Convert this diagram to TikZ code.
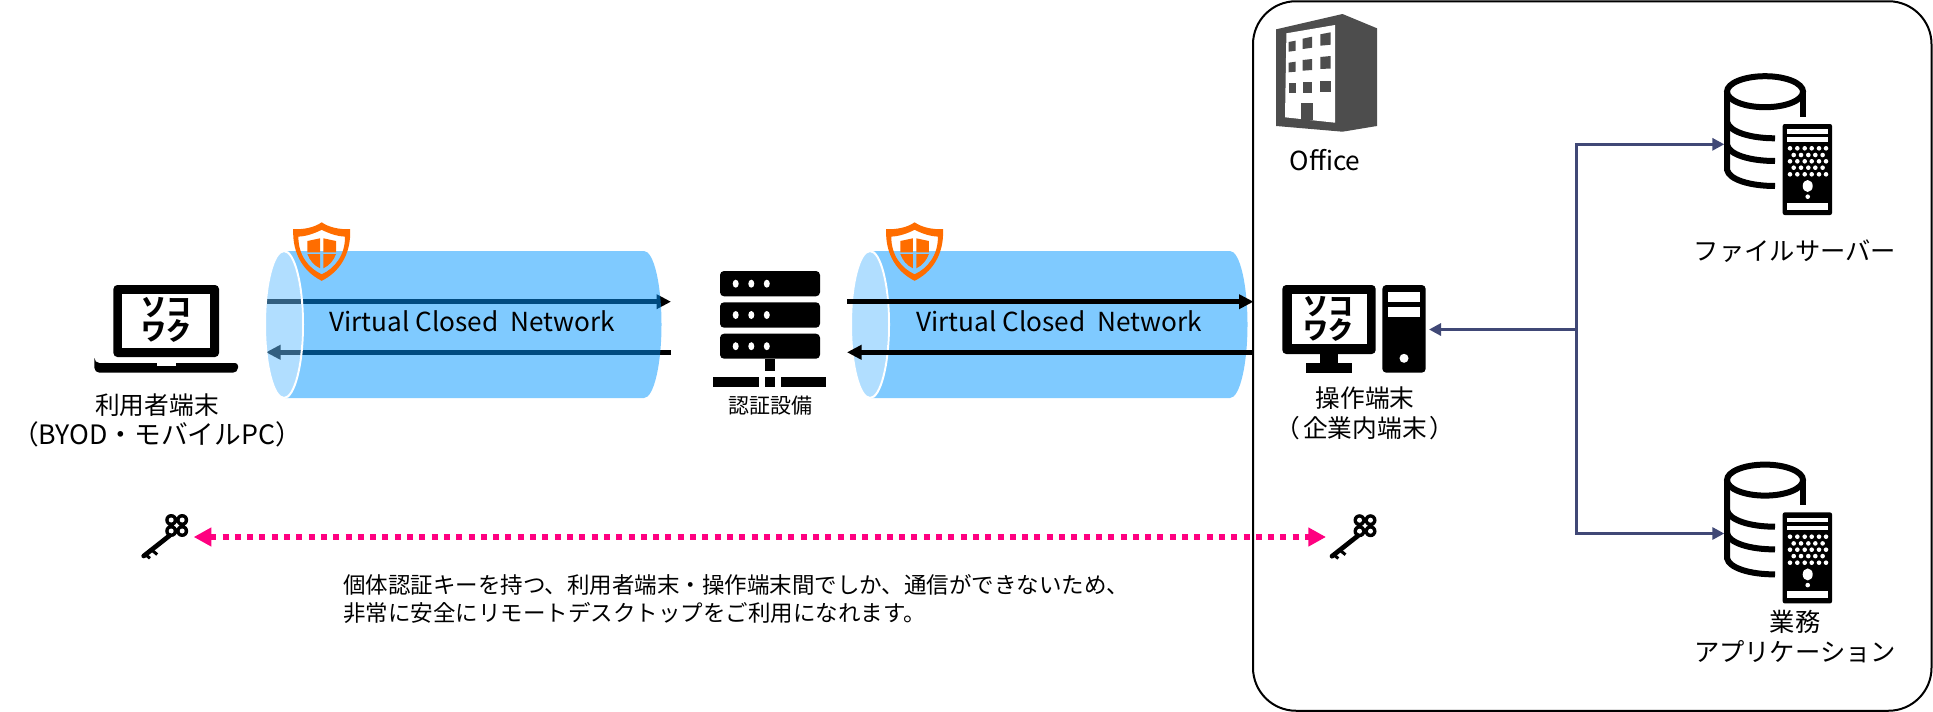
\documentclass[tikz,border=0pt]{standalone}
\usepackage{fontspec}
\setmainfont{Noto Sans CJK JP}
\usetikzlibrary{arrows.meta}
\definecolor{tube_fill}{HTML}{0096FF}
\definecolor{tube_end}{HTML}{64BEFF}
\definecolor{shield_col}{HTML}{FF6D00}
\definecolor{link_col}{HTML}{404876}
\definecolor{key_col}{HTML}{FF0080}
\definecolor{office_col}{HTML}{4D4D4D}
\tikzset{
  label_txt/.style={inner sep=0pt,align=center,font=\fontsize{24.7}{30}\selectfont},
  latin_txt/.style={inner sep=0pt,align=center,font=\fontsize{26.2}{30}\selectfont},
  kana_txt/.style={inner sep=0pt,align=center,font=\fontsize{25.3}{30}\selectfont},
  small_txt/.style={inner sep=0pt,align=left,font=\fontsize{22.5}{27.7}\selectfont},
  logo_txt/.style={inner sep=0pt,align=center,font=\fontsize{25}{22}\selectfont\bfseries},
  wide_link/.style={line width=5pt,-{Triangle[length=14.5pt,width=14pt]}},
  thin_link/.style={color=link_col,line width=3pt,-{Triangle[length=12pt,width=12pt]}},
  key_link/.style={color=key_col,line width=6pt,dash pattern=on 6pt off 6.3pt,{Triangle[length=17.7pt,width=18pt]}-{Triangle[length=17.7pt,width=18pt]}},
  tube_pic/.pic={
    \fill[tube_fill,opacity=0.5] (0,-73.5) arc[start angle=90,end angle=-90,x radius=18,y radius=-73.5] -- (360,73.5) arc[start angle=-90,end angle=90,x radius=17.5,y radius=-73.5] -- cycle;
    \path[fill=tube_end,fill opacity=0.5,draw=white,line width=2pt] (0,0) ellipse[x radius=19,y radius=73.5];
  },
  shield_pic/.pic={
    \fill[shield_col,even odd rule] (0,0) .. controls (7,5) and (18,7.5) .. (28.5,6.7) .. controls (29.5,33) and (17,50) .. (0,58.5) .. controls (-17,50) and (-29.5,33) .. (-28.5,6.7) .. controls (-18,7.5) and (-7,5) .. cycle
      (0,7.5) .. controls (7,11) and (15,14) .. (23.3,14.3) .. controls (23.5,33) and (13,46) .. (0,52) .. controls (-13,46) and (-23.5,33) .. (-23.3,14.3) .. controls (-15,14) and (-7,11) .. cycle;
    \fill[shield_col] (-14.3,18.7) -- (-1.7,16) -- (-1.7,30) -- (-14.3,30) -- cycle;
    \fill[shield_col] (14.3,18.7) -- (1.7,16) -- (1.7,30) -- (14.3,30) -- cycle;
    \fill[shield_col] (-14.3,31.7) -- (-1.7,31.7) -- (-1.7,46) .. controls (-8,43) and (-12,38) .. cycle;
    \fill[shield_col] (14.3,31.7) -- (1.7,31.7) -- (1.7,46) .. controls (8,43) and (12,38) .. cycle;
  },
  key_pic/.pic={
    \fill (-5.5,-5.5) circle[radius=6] (5.5,-5.5) circle[radius=6] (-5.5,5.5) circle[radius=6] (5.5,5.5) circle[radius=6];
    \fill[white] (-5.5,-5.5) circle[radius=2.5] (5.5,-5.5) circle[radius=2.5] (-5.5,5.5) circle[radius=2.5] (5.5,5.5) circle[radius=2.5];
    \draw[line width=4.7pt,line cap=round] (-7,10) -- (-33,30.5);
    \draw[line width=3pt] (-30.7,29.5) -- (-26.7,32.8) (-25,24.5) -- (-19.5,29);
  },
  db_pic/.pic={
    \draw[line width=6pt] (0,0) ellipse[x radius=38,y radius=15.5];
    \draw[line width=6pt] (38,0) -- (38,25);
    \draw[line width=6pt] (-38,0) -- (-38,78) .. controls (-36,88) and (-15,94.3) .. (10,94.3);
    \draw[line width=6pt] (-38,30) .. controls (-36,40) and (-15,46.6) .. (10,46.6);
    \draw[line width=6pt] (-38,53) .. controls (-36,63) and (-15,69.3) .. (10,69.3);
    \fill[rounded corners=2pt] (17.7,32.3) rectangle (67,123.3);
    \fill[white] (22.3,37.6) rectangle (63,42.3);
    \fill[white] (22.3,45.6) rectangle (63,50);
    \foreach \rowy in {56.6,69.6,82.6} \foreach \doty in {25,32.3,39.7,46.7,54,61} \fill[white] (\doty,\rowy) circle[radius=2.3];
    \foreach \rowy in {63.3,76} \foreach \doty in {28.7,36,43.3,50.3,57.6} \fill[white] (\doty,\rowy) circle[radius=2.3];
    \fill[white] (42.7,94.3) ellipse[x radius=5,y radius=6];
    \fill[white] (42.7,105) circle[radius=2.3];
    \fill[white] (22.3,111) rectangle (63,118.3);
  }
}
\begin{document}
\begin{tikzpicture}[x=1pt,y=-1pt]
\useasboundingbox (0,0) rectangle (1933,712);
\path (1592.25,356) node(office_box) [draw,line width=2pt,rounded corners=43pt,minimum width=678.5pt,minimum height=709.5pt] {};
\path (266,301.7) coordinate(tube_a_in);
\path (671,301.7) coordinate(tube_a_out);
\path (671,352.3) coordinate(tube_a_back);
\path (266,352.3) coordinate(tube_a_end);
\draw[wide_link] (tube_a_in) -- (tube_a_out);
\draw[wide_link] (tube_a_back) -- (tube_a_end);
\path (284,324.5) pic {tube_pic};
\path (321.7,222.3) pic {shield_pic};
\path (472,321) node(vcn_a) [latin_txt] {Virtual Closed\ \ Network};
\path (870,324.5) pic {tube_pic};
\path (914.6,222.3) pic {shield_pic};
\path (1059,321) node(vcn_b) [latin_txt] {Virtual Closed\ \ Network};
\path (847,301.7) coordinate(tube_b_in);
\path (1253.5,301.7) coordinate(tube_b_out);
\path (1253.5,352.3) coordinate(tube_b_back);
\path (847,352.3) coordinate(tube_b_end);
\draw[wide_link] (tube_b_in) -- (tube_b_out);
\draw[wide_link] (tube_b_back) -- (tube_b_end);
\fill[rounded corners=4pt] (113.4,285) rectangle (219,357);
\fill[white] (122,294) rectangle (209.5,347.7);
\fill[rounded corners=3pt] (94.4,363) -- (238,363) [sharp corners] -- (238,367) [rounded corners=5pt] -- (238,372.7) -- (94.4,372.7) -- (94.4,363) -- cycle;
\fill[white] (157,363) rectangle (175.5,366);
\path (166.7,319.8) node(logo_a) [logo_txt] {ソコ\\ワク};
\path (157,420.5) node(user_lbl) [label_txt] {利用者端末\\\fontsize{26.7}{30}\selectfont（BYOD・モバイルPC）};
\fill[rounded corners=4pt] (720,271) rectangle (820,296.3);
\fill[rounded corners=4pt] (720,302.3) rectangle (820,327.7);
\fill[rounded corners=4pt] (720,333.7) rectangle (820,358.7);
\foreach \racky in {283.7,315,346.2} \foreach \rackx in {735.7,751.3,766.8} \fill[white] (\rackx,\racky) ellipse[x radius=3,y radius=4];
\fill (764.8,358.7) rectangle (774.5,371);
\fill (713.4,377.3) rectangle (758.5,386.7);
\fill (764.8,377.3) rectangle (774.5,386.7);
\fill (780.8,377.3) rectangle (826,386.7);
\path (770,406) node(auth_lbl) [inner sep=0pt,font=\fontsize{21}{21}\selectfont] {認証設備};
\fill[rounded corners=4pt] (1282.3,285) rectangle (1375.7,354);
\fill[white] (1291.7,294.3) rectangle (1366.7,344);
\fill (1320,354) rectangle (1338,364);
\fill (1305.7,363.3) rectangle (1352.3,372.7);
\fill[rounded corners=4pt] (1382.3,285) rectangle (1425.7,372.7);
\fill[white] (1388.3,291.7) rectangle (1420,301.7);
\fill[white] (1388.3,307.3) rectangle (1420,316.7);
\fill[white] (1404,358.3) circle[radius=4.5];
\path (1328,319) node(logo_b) [logo_txt] {ソコ\\ワク};
\path (1365,413) node(pc_lbl) [label_txt] {操作端末\\（\hspace{3pt}企業内端末\hspace{3pt}）};
\fill[office_col] (1342.5,14) -- (1276.2,29.3) -- (1276.2,126) -- (1342.5,131.7) -- (1377,126) -- (1377,28.3) -- cycle;
\fill[white] (1286.4,33.3) -- (1335,25) -- (1335,122.7) -- (1285,117.3) -- cycle;
\fill[office_col] (1301,102.7) rectangle (1313,120);
\fill[office_col] (1288.6,42) -- (1295.7,40.7) -- (1295.7,50.7) -- (1288.6,51.7) -- cycle;
\fill[office_col] (1302.7,38.7) -- (1312,36.7) -- (1312,47.7) -- (1302.7,49) -- cycle;
\fill[office_col] (1320.4,34.3) -- (1330.6,32.3) -- (1330.6,44.7) -- (1320.4,45.7) -- cycle;
\fill[office_col] (1288.6,62.7) -- (1295.7,61.7) -- (1295.7,71.7) -- (1288.6,72.3) -- cycle;
\fill[office_col] (1302.7,60) -- (1312,59) -- (1312,70) -- (1302.7,70.7) -- cycle;
\fill[office_col] (1320.4,57) -- (1330.6,56) -- (1330.6,68.5) -- (1320.4,69) -- cycle;
\fill[office_col] (1288.6,83.2) rectangle (1295.7,93.3);
\fill[office_col] (1302.7,82) rectangle (1312,93.3);
\fill[office_col] (1320.4,80.5) rectangle (1330.6,92.3);
\path (1325,160) node(office_lbl) [latin_txt] {Office};
\path (1765,91.7) pic {db_pic};
\path (1795,251) node(file_lbl) [kana_txt] {ファイルサーバー};
\path (1765,480.1) pic {db_pic};
\path (1795,637) node(app_lbl) [kana_txt] {業務\\アプリケーション};
\path (1576.7,329.5) coordinate(hub_0);
\path (1576.7,144.3) coordinate(hub_top);
\path (1576.7,533.5) coordinate(hub_low);
\path (1429,329.5) coordinate(pc_in);
\path (1724.3,144.3) coordinate(file_in);
\path (1724.3,533.5) coordinate(app_in);
\draw[thin_link] (hub_0) -- (pc_in);
\draw[thin_link] (hub_0) -- (hub_top) -- (file_in);
\draw[thin_link] (hub_0) -- (hub_low) -- (app_in);
\path (176.7,525.5) pic {key_pic};
\path (1365,525.7) pic {key_pic};
\path (193.7,537) coordinate(key_a);
\path (1326,537) coordinate(key_b);
\draw[key_link] (key_a) -- (key_b);
\path (343,598.8) node(note_txt) [small_txt,anchor=west] {個体認証キーを持つ、利用者端末・操作端末間でしか、通信ができないため、\\非常に安全にリモートデスクトップをご利用になれます。};
\end{tikzpicture}
\end{document}
